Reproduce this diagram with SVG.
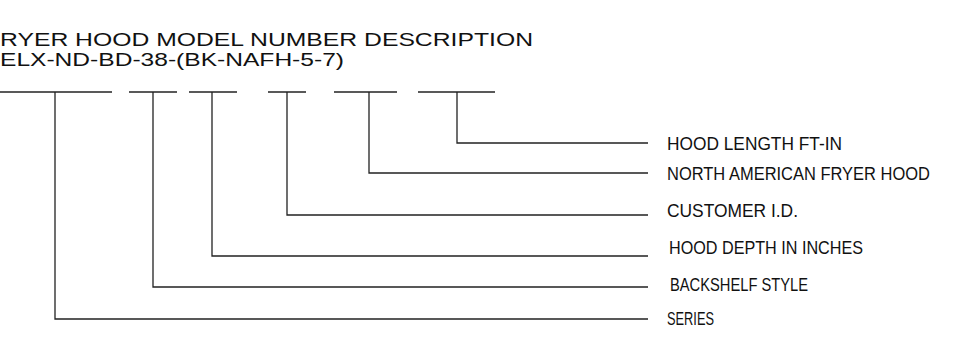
<svg xmlns="http://www.w3.org/2000/svg" width="968" height="346" viewBox="0 0 968 346">
<style>
.t{font-family:"Liberation Sans",Arial,sans-serif;fill:#111}
.title{font-size:18.5px}
.lbl{font-size:18px}
.ln{stroke:#222;stroke-width:1.3;fill:none}
</style>
<rect width="968" height="346" fill="#fff"/>
<g id="title">
<text class="t title" x="0" y="46" textLength="533" lengthAdjust="spacingAndGlyphs">RYER HOOD MODEL NUMBER DESCRIPTION</text>
<text class="t title" x="0" y="66" textLength="344" lengthAdjust="spacingAndGlyphs">ELX-ND-BD-38-(BK-NAFH-5-7)</text>
</g>
<g id="segments" class="ln">
<line x1="0" y1="92" x2="112" y2="92"/>
<line x1="129" y1="92" x2="177" y2="92"/>
<line x1="189" y1="92" x2="237" y2="92"/>
<line x1="268" y1="92" x2="306" y2="92"/>
<line x1="334" y1="92" x2="397" y2="92"/>
<line x1="418" y1="92" x2="495" y2="92"/>
</g>
<g id="connectors" class="ln">
<polyline points="457,92 457,143 648,143"/>
<polyline points="369,92 369,173 648,173"/>
<polyline points="287,92 287,215 648,215"/>
<polyline points="212,92 212,256 648,256"/>
<polyline points="153,92 153,287 648,287"/>
<polyline points="55,92 55,319 648,319"/>
</g>
<g id="label-length"><text class="t lbl" x="667" y="149.5" textLength="175" lengthAdjust="spacingAndGlyphs">HOOD LENGTH FT-IN</text></g>
<g id="label-nafh"><text class="t lbl" x="667" y="179.5" textLength="263" lengthAdjust="spacingAndGlyphs">NORTH AMERICAN FRYER HOOD</text></g>
<g id="label-customer"><text class="t lbl" x="667" y="217" textLength="131" lengthAdjust="spacingAndGlyphs">CUSTOMER I.D.</text></g>
<g id="label-depth"><text class="t lbl" x="669" y="254" textLength="194" lengthAdjust="spacingAndGlyphs">HOOD DEPTH IN INCHES</text></g>
<g id="label-backshelf"><text class="t lbl" x="670" y="291" textLength="138" lengthAdjust="spacingAndGlyphs">BACKSHELF STYLE</text></g>
<g id="label-series"><text class="t lbl" x="667" y="325" textLength="47" lengthAdjust="spacingAndGlyphs">SERIES</text></g>
</svg>
